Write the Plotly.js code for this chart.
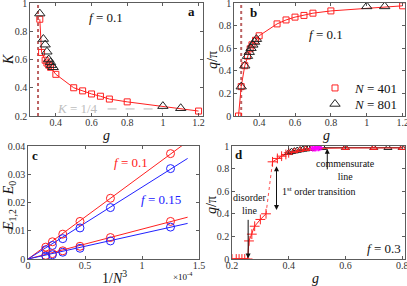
<!DOCTYPE html>
<html><head><meta charset="utf-8">
<script src="https://cdn.plot.ly/plotly-3.0.1.min.js"></script>
<style>html,body{margin:0;padding:0;background:#fff}#c{width:407px;height:286px}</style>
</head><body><div id="c"></div>
<script>
// ---- Panel a: K vs g (f = 0.1)
const aSqG  = [0.31,0.32,0.34,0.35,0.36,0.37,0.40,0.50,0.55,0.60,0.65,0.70,0.80,1.20];
const aSqK  = [0.885,0.65,0.595,0.575,0.56,0.545,0.495,0.40,0.378,0.356,0.34,0.32,0.30,0.235];
const aTriG = [0.31,0.33,0.34,0.35,0.36,0.37,0.375,0.385,1.00,1.10];
const aTriK = [0.925,0.745,0.705,0.655,0.60,0.58,0.56,0.545,0.27,0.255];
const aRefG = [0.69,1.00];   // K = 1/4 guide
const aRefK = [0.25,0.25];
const critG = [0.30,0.30];   // vertical dashed critical line
const critA = [0.2,1.0];
const critB = [0,1.0];
// ---- Panel b: q/pi vs g (f = 0.1)
const bSqG  = [0.285,0.30,0.32,0.335,0.35,0.36,0.38,0.40,0.50,0.55,0.60,0.65,0.70,0.80,1.20];
const bSqQ  = [0,0.26,0.445,0.53,0.595,0.63,0.67,0.71,0.815,0.85,0.875,0.89,0.91,0.93,0.975];
const bTriG = [0.30,0.32,0.335,0.345,0.355,0.365,0.375,0.385,1.00,1.10];
const bTriQ = [0.26,0.445,0.53,0.565,0.60,0.63,0.655,0.68,0.97,0.97];
const legendNames = ['<i>N</i> = 401','<i>N</i> = 801'];
// ---- Panel c: gaps vs 1/N^3 (x 1e-4)
const cX      = [0.156,0.214,0.305,0.456,0.723,1.25];
const cRedHi  = [0.0042,0.0061,0.0088,0.0133,0.0215,0.0373];
const cBlueHi = [0.0033,0.0048,0.0072,0.0110,0.0182,0.0320];
const cRedLo  = [0.0013,0.0019,0.0029,0.0045,0.0076,0.0133];
const cBlueLo = [0.0010,0.0015,0.0024,0.0038,0.0064,0.0113];
const cFitX      = [0,1.4];
const cFitRedHi  = [0,0.0416];
const cFitBlueHi = [0,0.0356];
const cFitRedLo  = [0,0.0148];
const cFitBlueLo = [0,0.0126];
// ---- Panel d: q/pi vs g (f = 0.3)
const dCrossG = [0.20,0.215,0.225,0.235,0.245,0.255,0.26,0.27,0.28,0.30,0.32];
const dCrossQ = [0,0,0,0,0,0,0.16,0.22,0.29,0.35,0.40];
const dJumpG  = [0.32,0.343];
const dJumpQ  = [0.40,0.86];
const dCross2G = [0.343,0.36,0.375,0.39,0.40];
const dCross2Q = [0.86,0.89,0.91,0.925,0.94];
const dTriG = [0.40,0.41,0.42,0.43,0.44,0.45,0.46,0.47,0.48,0.52,0.60,0.70,0.75,0.80];
const dTriQ = [0.94,0.95,0.955,0.96,0.965,0.97,0.973,0.976,0.978,0.985,0.985,0.985,0.985,0.985];
const dRedG = [0.40,0.42,0.44,0.46,0.48,0.60,0.70,0.80];
const dRedQ = [0.94,0.955,0.965,0.973,0.978,0.983,0.983,0.983];
const dMagG = [0.485,0.49,0.495,0.50,0.505,0.51];
const dMagQ = [0.98,0.982,0.983,0.985,0.985,0.986];

const RED='#ff2020', BLUE='#2020ff', BLK='#222', FONT='Liberation Serif';

const traces = [
  // a
  {x:critG,y:critA,xaxis:'x',yaxis:'y',mode:'lines',line:{color:'rgba(175,70,70,0.85)',width:2,dash:'dot'},showlegend:false},
  {x:aRefG,y:aRefK,xaxis:'x',yaxis:'y',mode:'lines',line:{color:'#b8b8b8',width:1,dash:'dash'},showlegend:false},
  {x:aSqG,y:aSqK,xaxis:'x',yaxis:'y',mode:'lines+markers',line:{color:RED,width:1},marker:{symbol:'square-open',size:6,color:RED,line:{width:1}},showlegend:false},
  {x:aTriG,y:aTriK,xaxis:'x',yaxis:'y',mode:'markers',marker:{symbol:'triangle-up-open',size:9,color:BLK,line:{width:1}},showlegend:false},
  // b
  {x:critG,y:critB,xaxis:'x2',yaxis:'y2',mode:'lines',line:{color:'rgba(175,70,70,0.85)',width:2,dash:'dot'},showlegend:false},
  {x:bSqG,y:bSqQ,xaxis:'x2',yaxis:'y2',mode:'lines',line:{color:RED,width:1},showlegend:false},
  {x:bSqG,y:bSqQ,xaxis:'x2',yaxis:'y2',mode:'markers',name:legendNames[0],legend:'legend',marker:{symbol:'square-open',size:6,color:RED,line:{width:1}}},
  {x:bTriG,y:bTriQ,xaxis:'x2',yaxis:'y2',mode:'markers',name:legendNames[1],legend:'legend2',marker:{symbol:'triangle-up-open',size:9,color:BLK,line:{width:1}}},
  // c
  {x:cFitX,y:cFitRedHi,xaxis:'x3',yaxis:'y3',mode:'lines',line:{color:RED,width:1},showlegend:false},
  {x:cFitX,y:cFitBlueHi,xaxis:'x3',yaxis:'y3',mode:'lines',line:{color:BLUE,width:1},showlegend:false},
  {x:cFitX,y:cFitRedLo,xaxis:'x3',yaxis:'y3',mode:'lines',line:{color:RED,width:1},showlegend:false},
  {x:cFitX,y:cFitBlueLo,xaxis:'x3',yaxis:'y3',mode:'lines',line:{color:BLUE,width:1},showlegend:false},
  {x:cX,y:cRedHi,xaxis:'x3',yaxis:'y3',mode:'markers',marker:{symbol:'circle-open',size:8,color:RED,line:{width:1}},showlegend:false},
  {x:cX,y:cBlueHi,xaxis:'x3',yaxis:'y3',mode:'markers',marker:{symbol:'circle-open',size:8,color:BLUE,line:{width:1}},showlegend:false},
  {x:cX,y:cRedLo,xaxis:'x3',yaxis:'y3',mode:'markers',marker:{symbol:'circle-open',size:8,color:RED,line:{width:1}},showlegend:false},
  {x:cX,y:cBlueLo,xaxis:'x3',yaxis:'y3',mode:'markers',marker:{symbol:'circle-open',size:8,color:BLUE,line:{width:1}},showlegend:false},
  // d
  {x:dCrossG,y:dCrossQ,xaxis:'x4',yaxis:'y4',mode:'lines+markers',line:{color:RED,width:1},marker:{symbol:'cross-thin-open',size:7,color:RED,line:{width:1,color:RED}},showlegend:false},
  {x:dJumpG,y:dJumpQ,xaxis:'x4',yaxis:'y4',mode:'lines',line:{color:RED,width:0.8,dash:'dot'},showlegend:false},
  {x:dCross2G,y:dCross2Q,xaxis:'x4',yaxis:'y4',mode:'lines+markers',line:{color:RED,width:1},marker:{symbol:'cross-thin-open',size:7,color:RED,line:{width:1,color:RED}},showlegend:false},
  {x:dTriG,y:dTriQ,xaxis:'x4',yaxis:'y4',mode:'lines+markers',line:{color:BLK,width:1},marker:{symbol:'triangle-up-open',size:7,color:BLK,line:{width:1}},showlegend:false},
  {x:dRedG,y:dRedQ,xaxis:'x4',yaxis:'y4',mode:'lines+markers',line:{color:RED,width:1},marker:{symbol:'triangle-up-open',size:6,color:RED,line:{width:1}},showlegend:false},
  {x:dMagG,y:dMagQ,xaxis:'x4',yaxis:'y4',mode:'markers',marker:{symbol:'asterisk-open',size:6,color:'#ff00ff',line:{width:1,color:'#ff00ff'}},showlegend:false}
];

function ax(extra){
  return Object.assign({
    showline:true, mirror:'ticks', linecolor:'#333', linewidth:0.8,
    ticks:'inside', ticklen:3, tickcolor:'#333', tickwidth:0.8,
    showgrid:false, zeroline:false, ticklabeloverflow:'allow',
    tickfont:{family:FONT,size:10,color:'#333'}
  }, extra);
}
function xax(extra){ return ax(Object.assign({ticklabelstandoff:-3}, extra)); }

const W=407, H=286;
const ann = [];
function txt(xr,yr,x,y,text,opts){ ann.push(Object.assign({xref:xr,yref:yr,x:x,y:y,xanchor:'center',yanchor:'middle',text:text,showarrow:false,font:{family:FONT,size:13,color:'#111'}},opts||{})); }
// axis titles placed in paper space (pixel positions converted)
function ptitle(px,py,text,rot,size){ ann.push({xref:'paper',yref:'paper',x:px/W,y:1-py/H,xanchor:'center',yanchor:'middle',text:text,showarrow:false,textangle:rot||0,font:{family:FONT,size:size||14,color:'#111'}}); }
ptitle(8,60,'<i>K</i>',-90);
ptitle(212,60,'<i>q</i>/π',-90);
ptitle(106,135,'<i>g</i>');
ptitle(326,135,'<i>g</i>');
ptitle(9,206,'<i>E</i><sub>1,2</sub> − <i>E</i><sub>0</sub>',-90);
ptitle(114,277,'1/<i>N</i><sup>3</sup>');
ptitle(211,205,'<i>q</i>/π',-90);
ptitle(315,278,'<i>g</i>');
ptitle(183,276,'×10<sup>-4</sup>',0,9);

txt('x','y',0.68,0.90,'<i>f</i> = 0.1');
txt('x','y',1.16,0.94,'<b>a</b>');
txt('x','y',0.52,0.25,'<i>K</i> = 1/4',{font:{family:FONT,size:13,color:'#bdbdbd'}});
txt('x2','y2',0.77,0.72,'<i>f</i> = 0.1');
txt('x2','y2',0.368,0.92,'<b>b</b>');
txt('x3','y3',0.065,0.0368,'<b>c</b>');
txt('x3','y3',0.90,0.034,'<i>f</i> = 0.1',{font:{family:FONT,size:13,color:RED}});
txt('x3','y3',1.17,0.0212,'<i>f</i> = 0.15',{font:{family:FONT,size:13,color:BLUE}});
txt('x4','y4',0.226,0.926,'<b>d</b>');
txt('x4','y4',0.737,0.095,'<i>f</i> = 0.3');
txt('x4','y4',0.60,0.79,'commensurate<br>line',{font:{family:FONT,size:10,color:'#111'}});
txt('x4','y4',0.369,0.60,'1<sup>st</sup> order transition',{xanchor:'left',font:{family:FONT,size:10,color:'#111'}});
txt('x4','y4',0.262,0.49,'disorder<br>line',{font:{family:FONT,size:10,color:'#111'}});
// arrows
ann.push({xref:'x4',yref:'y4',axref:'x4',ayref:'y4',x:0.536,y:0.975,ax:0.536,ay:0.78,text:'',showarrow:true,arrowhead:2,arrowsize:1,arrowwidth:1,arrowcolor:'#111'});
ann.push({xref:'x4',yref:'y4',axref:'x4',ayref:'y4',x:0.357,y:0.82,ax:0.357,ay:0.42,text:'',showarrow:true,arrowhead:2,startarrowhead:2,arrowside:'end+start',arrowsize:1,arrowwidth:1,arrowcolor:'#111'});
ann.push({xref:'x4',yref:'y4',axref:'x4',ayref:'y4',x:0.257,y:0.005,ax:0.257,ay:0.36,text:'',showarrow:true,arrowhead:2,arrowsize:1,arrowwidth:1,arrowcolor:'#111'});

const legBase = {xanchor:'right',yanchor:'middle',bgcolor:'rgba(0,0,0,0)',borderwidth:0,font:{family:FONT,size:13,color:'#111'},itemwidth:30};
const layout = {
  width:W, height:H, margin:{l:0,r:0,t:0,b:0},
  paper_bgcolor:'#fff', plot_bgcolor:'#fff',
  font:{family:FONT},
  showlegend:true,
  legend:  Object.assign({x:404/W, y:1-88/H}, legBase),
  legend2: Object.assign({x:404/W, y:1-104/H}, legBase),
  xaxis: xax({domain:[0.0737,0.4988],anchor:'y',range:[0.255,1.225],tickvals:[0.4,0.6,0.8,1,1.2]}),
  yaxis: ax({domain:[0.5944,0.9895],anchor:'x',range:[0.2,1],tickvals:[0.2,0.4,0.6,0.8,1]}),
  xaxis2: xax({domain:[0.575,0.995],anchor:'y2',range:[0.26,1.213],tickvals:[0.4,0.6,0.8,1,1.2]}),
  yaxis2: ax({domain:[0.5944,0.9895],anchor:'x2',range:[0,1],tickvals:[0,0.2,0.4,0.6,0.8,1]}),
  xaxis3: xax({domain:[0.0688,0.489],anchor:'y3',range:[0,1.5],tickvals:[0,0.5,1,1.5],ticktext:['0','0.5','1','1.5']}),
  yaxis3: ax({domain:[0.0944,0.4895],anchor:'x3',range:[0,0.04],tickvals:[0,0.01,0.02,0.03,0.04]}),
  xaxis4: xax({domain:[0.570,0.995],anchor:'y4',range:[0.2,0.81],tickvals:[0.2,0.4,0.6,0.8]}),
  yaxis4: ax({domain:[0.0944,0.4895],anchor:'x4',range:[0,1],tickvals:[0,0.2,0.4,0.6,0.8,1]}),
  annotations: ann
};
Plotly.newPlot('c', traces, layout, {staticPlot:true,displayModeBar:false});
</script></body></html>
